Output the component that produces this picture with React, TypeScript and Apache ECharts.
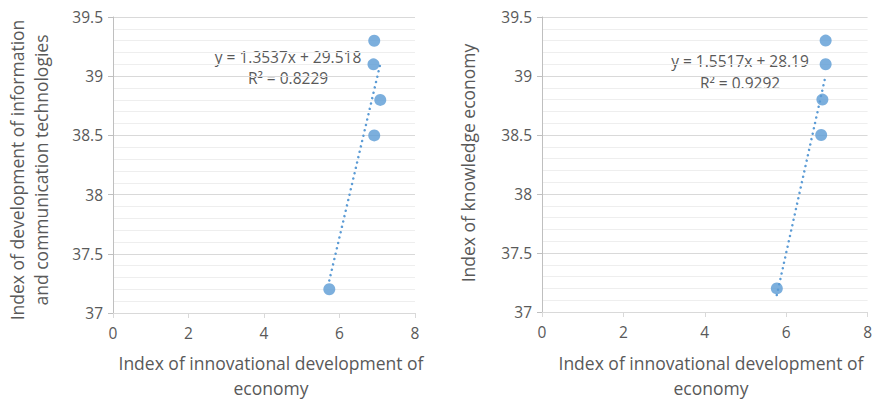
import React, { useEffect, useRef } from "react";
import * as echarts from "echarts";

// Left chart: innovation index vs ICT development index
const leftX = [6.92, 6.9, 7.08, 6.92, 5.73];
const leftY = [39.3, 39.1, 38.8, 38.5, 37.2];
const leftTrend = [1.3537, 29.518]; // slope, intercept
const leftEq = ["y = 1.3537x + 29.518", "R² = 0.8229"];

// Right chart: innovation index vs knowledge economy index
const rightX = [6.97, 6.97, 6.89, 6.86, 5.77];
const rightY = [39.3, 39.1, 38.8, 38.5, 37.2];
const rightTrend = [1.5517, 28.19];
const rightEq = ["y = 1.5517x + 28.19", "R² = 0.9292"];

const xTitle = ["Index of innovational development of", "economy"];
const leftYTitle = ["Index of development of information", "and communication technologies"];
const rightYTitle = ["Index of knowledge economy"];

const FONT = "'Open Sans', 'Noto Sans', sans-serif";
const TXT = "#595959";
const BLUE = "#5b9bd5";

function trendData(xs: number[], coef: number[]) {
  const lo = Math.min(...xs);
  const hi = Math.max(...xs);
  return [
    [lo, coef[0] * lo + coef[1]],
    [hi, coef[0] * hi + coef[1]],
  ];
}

export default function App() {
  const ref = useRef<HTMLDivElement>(null);
  useEffect(() => {
    if (!ref.current) return;
    const chart = echarts.init(ref.current, null, { renderer: "svg" });
    const xAxisBase = {
      type: "value",
      min: 0,
      max: 8,
      interval: 2,
      splitLine: { show: false },
      axisLine: { show: true, onZero: false, lineStyle: { color: "#d9d9d9", width: 1 } },
      axisTick: { show: true, length: 5, lineStyle: { color: "#d9d9d9" } },
      axisLabel: { color: TXT, fontFamily: FONT, fontSize: 15.5, margin: 12 },
    };
    const yAxisBase = {
      type: "value",
      min: 37,
      max: 39.5,
      interval: 0.5,
      axisLine: { show: true, lineStyle: { color: "#bfbfbf", width: 1 } },
      axisTick: { show: true, length: 5, lineStyle: { color: "#bfbfbf" } },
      axisLabel: { color: TXT, fontFamily: FONT, fontSize: 15.5, margin: 10 },
      splitLine: { show: true, lineStyle: { color: "#d9d9d9", width: 1 } },
      minorTick: { show: false, splitNumber: 5 },
      minorSplitLine: { show: true, lineStyle: { color: "#eeeeee", width: 1 } },
    };
    const titleStyle = { fill: TXT, fontFamily: FONT, fontSize: 17.5, textAlign: "center", textVerticalAlign: "middle" };
    const eqStyle = { fill: TXT, fontFamily: FONT, fontSize: 15.5, textAlign: "center", textVerticalAlign: "middle" };
    const trendLine = { color: BLUE, width: 2.5, type: [0.01, 5.5], cap: "round" };
    chart.setOption({
      animation: false,
      grid: [
        { left: 113, top: 17, width: 302, height: 296 },
        { left: 542, top: 17, width: 327, height: 295 },
      ],
      xAxis: [
        { ...xAxisBase, gridIndex: 0 },
        { ...xAxisBase, gridIndex: 1 },
      ],
      yAxis: [
        { ...yAxisBase, gridIndex: 0 },
        { ...yAxisBase, gridIndex: 1 },
      ],
      series: [
        {
          type: "line",
          xAxisIndex: 0,
          yAxisIndex: 0,
          data: trendData(leftX, leftTrend),
          symbol: "none",
          lineStyle: trendLine,
          z: 2,
        },
        {
          type: "scatter",
          xAxisIndex: 0,
          yAxisIndex: 0,
          data: leftX.map((x, i) => [x, leftY[i]]),
          symbolSize: 12,
          itemStyle: { color: BLUE },
          z: 3,
        },
        {
          type: "line",
          xAxisIndex: 1,
          yAxisIndex: 1,
          data: trendData(rightX, rightTrend),
          symbol: "none",
          lineStyle: trendLine,
          z: 2,
        },
        {
          type: "scatter",
          xAxisIndex: 1,
          yAxisIndex: 1,
          data: rightX.map((x, i) => [x, rightY[i]]),
          symbolSize: 12,
          itemStyle: { color: BLUE },
          z: 3,
        },
      ],
      graphic: [
        { type: "text", x: 271, y: 363, style: { ...titleStyle, text: xTitle[0] } },
        { type: "text", x: 271, y: 388, style: { ...titleStyle, text: xTitle[1] } },
        { type: "text", x: 711, y: 363, style: { ...titleStyle, text: xTitle[0] } },
        { type: "text", x: 711, y: 388, style: { ...titleStyle, text: xTitle[1] } },
        { type: "text", x: 17, y: 170, rotation: Math.PI / 2, style: { ...titleStyle, text: leftYTitle[0] } },
        { type: "text", x: 41, y: 170, rotation: Math.PI / 2, style: { ...titleStyle, text: leftYTitle[1] } },
        { type: "text", x: 468, y: 163, rotation: Math.PI / 2, style: { ...titleStyle, text: rightYTitle[0] } },
        { type: "text", x: 288, y: 57, style: { ...eqStyle, text: leftEq[0] } },
        { type: "text", x: 288, y: 78, style: { ...eqStyle, text: leftEq[1] } },
        { type: "text", x: 740, y: 61, style: { ...eqStyle, text: rightEq[0] } },
        { type: "text", x: 740, y: 83, style: { ...eqStyle, text: rightEq[1] } },
      ],
    });
    return () => chart.dispose();
  }, []);
  return <div ref={ref} style={{ width: 875, height: 399, position: "absolute", left: 0, top: 0 }} />;
}
